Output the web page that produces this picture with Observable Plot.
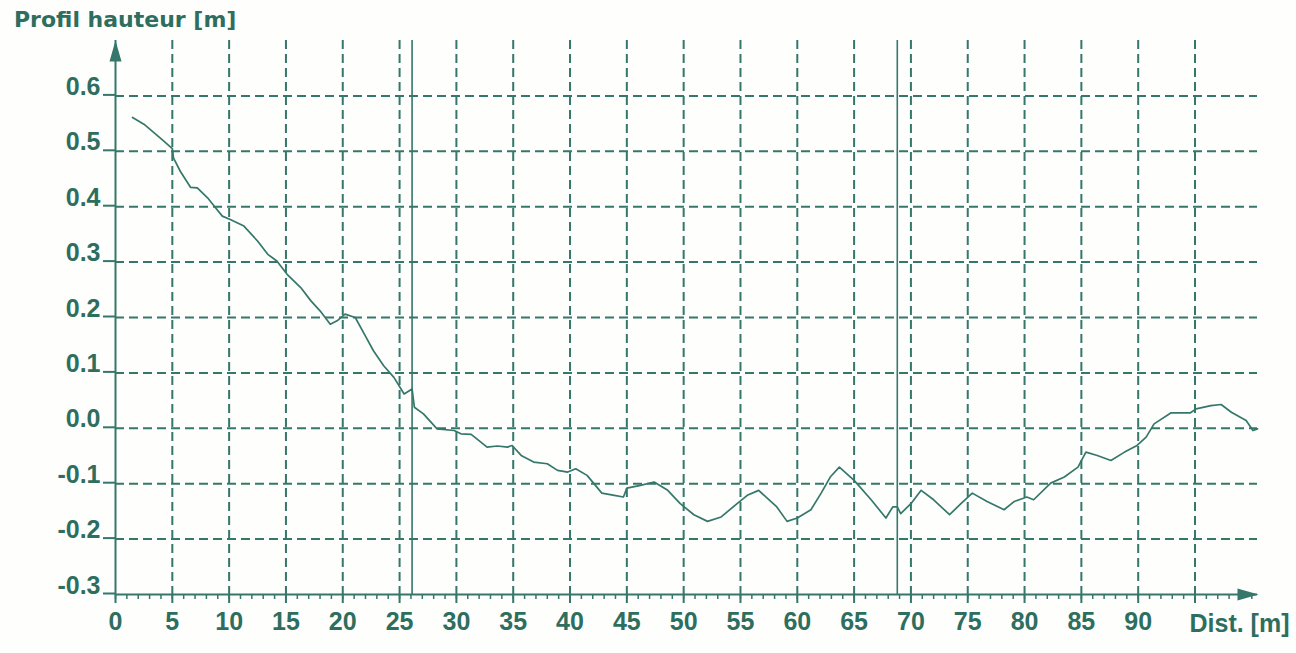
<!DOCTYPE html>
<html><head><meta charset="utf-8">
<script src="https://cdn.jsdelivr.net/npm/d3@7"></script>
<script src="https://cdn.jsdelivr.net/npm/@observablehq/plot@0.6"></script>
<style>
body{margin:0;background:#fefefc;}
#wrap{position:relative;width:1296px;height:653px;overflow:hidden;}
#title{position:absolute;left:14px;top:7px;font:bold 22px "DejaVu Sans",sans-serif;color:#2e6e5f;white-space:nowrap;}
#chart{position:absolute;left:0;top:0;}
</style></head><body>
<div id="wrap"><div id="chart"></div><div id="title">Profil hauteur [m]</div></div>
<script>
// Distance along profile [m]
const dist = [1.5,2.5,4.0,5.0,5.1,5.7,6.6,7.2,8.1,8.8,9.4,10.1,11.3,12.5,13.4,14.2,15.1,16.3,17.2,18.0,18.9,19.5,20.2,21.1,21.9,22.7,23.6,24.5,25.4,26.1,26.3,27.1,28.3,29.8,30.4,31.3,32.7,33.6,34.5,34.9,35.7,36.8,38.0,38.9,39.8,40.5,41.5,42.8,43.9,44.7,45.0,46.2,47.4,48.6,49.7,50.9,52.1,53.3,54.7,55.6,56.6,57.4,58.2,59.1,60.0,61.2,62.1,62.9,63.7,65.0,66.5,67.8,68.4,68.8,69.1,70.0,70.9,72.0,73.4,74.4,75.4,76.7,78.2,79.1,80.2,80.8,82.3,83.5,84.7,85.4,86.4,87.6,88.8,89.9,90.7,91.4,92.9,94.6,95.1,96.4,97.3,98.2,99.5,100.1,100.5];
// Height profile [m]
const hauteur = [0.561,0.549,0.523,0.505,0.488,0.464,0.435,0.434,0.416,0.398,0.383,0.377,0.365,0.338,0.314,0.302,0.278,0.254,0.230,0.212,0.188,0.194,0.206,0.200,0.170,0.140,0.113,0.092,0.062,0.071,0.038,0.026,-0.001,-0.004,-0.010,-0.011,-0.034,-0.032,-0.034,-0.031,-0.049,-0.061,-0.064,-0.076,-0.079,-0.073,-0.085,-0.117,-0.121,-0.124,-0.108,-0.103,-0.097,-0.112,-0.136,-0.156,-0.168,-0.160,-0.136,-0.121,-0.112,-0.127,-0.142,-0.168,-0.162,-0.147,-0.117,-0.088,-0.070,-0.094,-0.129,-0.162,-0.142,-0.142,-0.154,-0.136,-0.112,-0.129,-0.156,-0.136,-0.117,-0.132,-0.147,-0.132,-0.124,-0.129,-0.099,-0.088,-0.070,-0.043,-0.049,-0.058,-0.043,-0.031,-0.016,0.008,0.028,0.028,0.035,0.041,0.043,0.029,0.014,-0.004,-0.001];
// Section markers [m]
const markers = [26.1, 68.8];
// Tick values
const xLabels = [0,5,10,15,20,25,30,35,40,45,50,55,60,65,70,75,80,85,90];
const xGrid = [5,10,15,20,25,30,35,40,45,50,55,60,65,70,75,80,85,90,95];
const xMajor = [0,5,10,15,20,25,30,35,40,45,50,55,60,65,70,75,80,85,90,95];
const xMinor = d3.range(0, 101, 1);
const yTicks = [-0.3,-0.2,-0.1,0.0,0.1,0.2,0.3,0.4,0.5,0.6];
const yGrid = [-0.2,-0.1,0.0,0.1,0.2,0.3,0.4,0.5,0.6];
const xAxisTitle = ["Dist. [m]"];
const xDomain = [0, 100.5];
const yDomain = [-0.3, 0.7];

const profile = dist.map((d, i) => ({dist: d, h: hauteur[i]}));

const LINE = "#35776a";
const TXT = "#2e6e5f";
const arrowHead = {draw(ctx) { ctx.moveTo(0, 0); ctx.lineTo(6, 21); ctx.lineTo(-6, 21); ctx.closePath(); }};

const chart = Plot.plot({
  width: 1296, height: 653,
  marginLeft: 115, marginRight: 39, marginTop: 40, marginBottom: 59,
  x: {domain: xDomain, label: null},
  y: {domain: yDomain, label: null},
  style: {background: "transparent", fontFamily: "Liberation Sans, Arial, sans-serif", overflow: "visible"},
  marks: [
    Plot.ruleY(yGrid, {stroke: LINE, strokeWidth: 2, strokeDasharray: "9,5"}),
    Plot.ruleX(xGrid, {stroke: LINE, strokeWidth: 2, strokeDasharray: "9,5"}),
    Plot.ruleX(markers, {stroke: LINE, strokeWidth: 1.6}),
    Plot.ruleX([xDomain[0]], {stroke: LINE, strokeWidth: 2}),
    Plot.ruleY([yDomain[0]], {stroke: LINE, strokeWidth: 2}),
    Plot.axisY({ticks: yTicks, label: null, tickSize: 12, tickPadding: 3, tickFormat: d => d.toFixed(1),
      fontSize: 25, fontWeight: "bold", fill: TXT, stroke: LINE, strokeWidth: 2, lineAnchor: "bottom", dy: -1, strokeOpacity: 1}),
    Plot.axisX({ticks: xMinor, label: null, tickSize: 5, tickFormat: () => "", stroke: LINE, strokeWidth: 1.5, strokeOpacity: 1}),
    Plot.axisX({ticks: xMajor, label: null, tickSize: 9, tickFormat: () => "", stroke: LINE, strokeWidth: 2, strokeOpacity: 1}),
    Plot.axisX({ticks: xLabels, label: null, tickSize: 0, tickPadding: 18, tickFormat: d => String(d),
      fontSize: 25, fontWeight: "bold", fill: TXT, lineAnchor: "top"}),
    Plot.text(xAxisTitle, {text: d => d, frameAnchor: "bottom-right", textAnchor: "end", lineAnchor: "bottom",
      dx: 32, dy: 37, fontSize: 25, fontWeight: "bold", fill: TXT}),
    Plot.dot([0], {frameAnchor: "top-left", symbol: arrowHead, r: 1, fill: LINE, stroke: "none"}),
    Plot.dot([0], {frameAnchor: "bottom-right", symbol: arrowHead, r: 1, fill: LINE, stroke: "none", rotate: 90, dx: 1}),
    Plot.line(profile, {x: "dist", y: "h", stroke: LINE, strokeWidth: 1.7})
  ]
});
document.getElementById("chart").appendChild(chart);
</script>
</body></html>
